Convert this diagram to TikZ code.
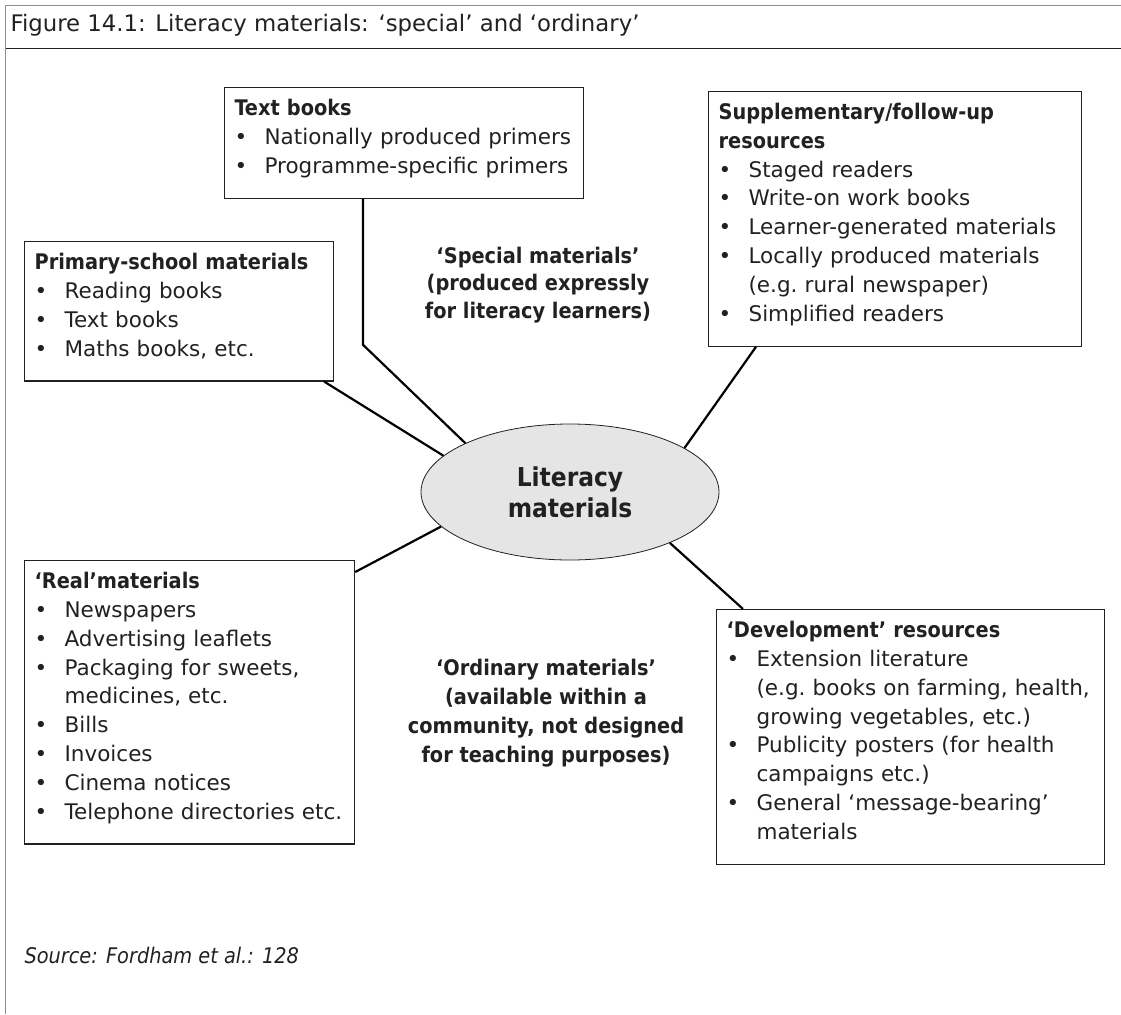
\documentclass[tikz,border=0pt]{standalone}
\usepackage{fontspec}
\setmainfont{DejaVu Sans}[BoldFont={DejaVu Sans Condensed Bold},ItalicFont={DejaVu Sans Condensed Oblique}]
\usepackage{xcolor}
\usepackage{tikz}
\usetikzlibrary{shapes,positioning,calc}
\definecolor{inkgray}{gray}{0.13}
\definecolor{framegray}{gray}{0.55}
\newcommand{\padtop}{\rule{0pt}{28pt}}
\newcommand{\padbot}{\rule[-25pt]{0pt}{25pt}}
\newcommand{\bul}[1]{\mbox{\makebox[30pt][l]{\textbullet}#1}}
\newcommand{\cnt}[1]{\mbox{\hspace*{30pt}#1}}

\begin{document}
\begin{tikzpicture}[x=1pt,y=-1pt,
    every node/.style={text=inkgray,font=\fontsize{21.5}{28.8}\selectfont},
    listbox/.style={draw=inkgray,line width=1.2pt,anchor=north west,align=left,inner xsep=10pt,inner ysep=0pt},
    groupnote/.style={font=\fontsize{21.5}{27.5}\selectfont\bfseries,align=center},
    link/.style={line width=2.2pt,black}]
    \useasboundingbox (0,0) rectangle (1121,1014);
    \draw[framegray,line width=1.8pt] (5.5,1014) -- (5.5,5.5) -- (1121,5.5);
    \draw[inkgray,line width=1.2pt] (5.5,48.5) -- (1121,48.5);
    \node[anchor=base west,font=\fontsize{22.8}{28.8}\selectfont] (ttl) at (7,32) {Figure 14.1: Literacy materials: `special' and `ordinary'};

    \node[ellipse,draw=inkgray,line width=0.8pt,fill=black!10,minimum width=298pt,minimum height=136pt,inner sep=0pt,align=center,font=\fontsize{26}{31}\selectfont\bfseries] (lit) at (570,492) {Literacy\\materials};

    \node[listbox,text width=339pt] (tb) at (224,87) {\padtop\textbf{Text books}\\
        \bul{Nationally produced primers}\\
        \bul{Programme-specific primers}\padbot};
    \node[listbox,text width=289pt] (prim) at (24,241) {\padtop\textbf{Primary-school materials}\\
        \bul{Reading books}\\
        \bul{Text books}\\
        \bul{Maths books, etc.}\padbot};
    \node[listbox,text width=353pt] (supp) at (708,91) {\padtop\textbf{Supplementary/follow-up}\\
        \textbf{resources}\\
        \bul{Staged readers}\\
        \bul{Write-on work books}\\
        \bul{Learner-generated materials}\\
        \bul{Locally produced materials}\\
        \cnt{(e.g.\ rural newspaper)}\\
        \bul{Simplified readers}\padbot};
    \node[listbox,text width=310pt] (real) at (24,560) {\padtop\textbf{`Real'materials}\\
        \bul{Newspapers}\\
        \bul{Advertising leaflets}\\
        \bul{Packaging for sweets,}\\
        \cnt{medicines, etc.}\\
        \bul{Bills}\\
        \bul{Invoices}\\
        \bul{Cinema notices}\\
        \bul{Telephone directories etc.}\padbot};
    \node[listbox,text width=368pt] (dev) at (716,609) {\padtop\textbf{`Development' resources}\\
        \bul{Extension literature}\\
        \cnt{(e.g.\ books on farming, health,}\\
        \cnt{growing vegetables, etc.)}\\
        \bul{Publicity posters (for health}\\
        \cnt{campaigns etc.)}\\
        \bul{General `message-bearing'}\\
        \cnt{materials}\padbot};

    \node[groupnote] (spec) at (538,285) {`Special materials'\\(produced expressly\\for literacy learners)};
    \node[groupnote,font=\fontsize{21.5}{28.8}\selectfont\bfseries] (ord) at (546,713) {`Ordinary materials'\\(available within a\\community, not designed\\for teaching purposes)};
    \node[anchor=base west,font=\fontsize{21.5}{28.8}\selectfont\itshape] (src) at (21,963) {Source: Fordham et al.: 128};

    \draw[link] (tb.south west) ++(139,0) -- ++(0,146) -- (lit.155);
    \draw[link] (prim.south east) ++(-10,0) -- (lit.164);
    \draw[link] (supp.south west) ++(48,0) -- (lit.21);
    \draw[link] (real.north east) ++(0,12) -- (lit.-165);
    \draw[link] (dev.north west) ++(27,0) -- (lit.-27);
\end{tikzpicture}
\end{document}
